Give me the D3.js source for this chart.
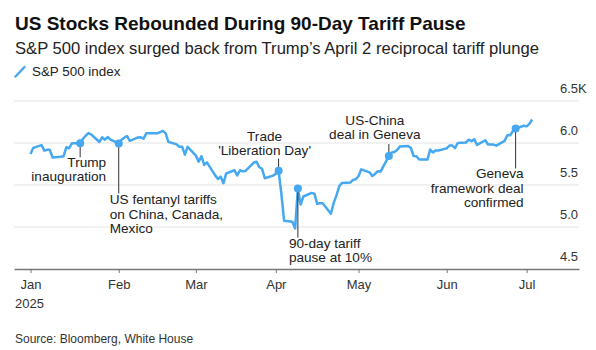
<!DOCTYPE html>
<html>
<head>
<meta charset="utf-8">
<script src="https://cdn.jsdelivr.net/npm/d3@7"></script>
<style>
  body { margin: 0; background: #fff; }
  svg { display: block; font-family: "Liberation Sans", Arial, Helvetica, sans-serif; }
</style>
</head>
<body>
<div id="chart"></div>
<script>
// S&P 500 daily closes (holidays carry the previous close)
const dates = [
  "2025-01-02","2025-01-03","2025-01-06","2025-01-07","2025-01-08","2025-01-09","2025-01-10",
  "2025-01-13","2025-01-14","2025-01-15","2025-01-16","2025-01-17","2025-01-20","2025-01-21",
  "2025-01-22","2025-01-23","2025-01-24","2025-01-27","2025-01-28","2025-01-29","2025-01-30","2025-01-31",
  "2025-02-03","2025-02-04","2025-02-05","2025-02-06","2025-02-07","2025-02-10","2025-02-11",
  "2025-02-12","2025-02-13","2025-02-14","2025-02-17","2025-02-18","2025-02-19","2025-02-20","2025-02-21",
  "2025-02-24","2025-02-25","2025-02-26","2025-02-27","2025-02-28",
  "2025-03-03","2025-03-04","2025-03-05","2025-03-06","2025-03-07","2025-03-10","2025-03-11",
  "2025-03-12","2025-03-13","2025-03-14","2025-03-17","2025-03-18","2025-03-19","2025-03-20",
  "2025-03-21","2025-03-24","2025-03-25","2025-03-26","2025-03-27","2025-03-28","2025-03-31",
  "2025-04-01","2025-04-02","2025-04-03","2025-04-04","2025-04-07","2025-04-08","2025-04-09",
  "2025-04-10","2025-04-11","2025-04-14","2025-04-15","2025-04-16","2025-04-17","2025-04-18",
  "2025-04-21","2025-04-22","2025-04-23","2025-04-24","2025-04-25","2025-04-28","2025-04-29","2025-04-30",
  "2025-05-01","2025-05-02","2025-05-05","2025-05-06","2025-05-07","2025-05-08","2025-05-09",
  "2025-05-12","2025-05-13","2025-05-14","2025-05-15","2025-05-16","2025-05-19","2025-05-20",
  "2025-05-21","2025-05-22","2025-05-23","2025-05-26","2025-05-27","2025-05-28","2025-05-29","2025-05-30",
  "2025-06-02","2025-06-03","2025-06-04","2025-06-05","2025-06-06","2025-06-09","2025-06-10",
  "2025-06-11","2025-06-12","2025-06-13","2025-06-16","2025-06-17","2025-06-18","2025-06-19",
  "2025-06-20","2025-06-23","2025-06-24","2025-06-25","2025-06-26","2025-06-27","2025-06-30",
  "2025-07-01","2025-07-02","2025-07-03"
];
const closes = [
  5868.55,5942.47,5975.38,5909.03,5918.25,5918.25,5827.04,
  5836.22,5842.91,5949.91,5937.34,5996.66,5996.66,6049.24,
  6086.37,6118.71,6101.24,6012.28,6067.70,6039.31,6071.17,6040.53,
  5994.57,6037.88,6061.48,6083.57,6025.99,6066.44,6068.50,
  6051.97,6115.07,6114.63,6114.63,6129.58,6144.15,6117.52,6013.13,
  5983.25,5955.25,5956.06,5861.57,5954.50,
  5849.72,5778.15,5842.63,5738.52,5770.20,5614.56,5572.07,
  5599.30,5521.52,5638.94,5675.12,5614.66,5675.29,5662.89,
  5667.56,5767.57,5776.65,5712.20,5693.31,5580.94,5611.85,
  5633.07,5670.97,5396.52,5074.08,5062.25,4982.77,5456.90,
  5268.05,5363.36,5405.97,5396.63,5275.70,5282.70,5282.70,
  5158.20,5287.76,5375.86,5484.77,5525.21,5528.75,5560.83,5569.06,
  5604.14,5686.67,5650.38,5606.91,5631.28,5663.94,5659.91,
  5844.19,5886.55,5892.58,5916.93,5958.38,5963.60,5940.46,
  5844.61,5842.01,5802.82,5802.82,5921.54,5888.55,5912.17,5911.69,
  5935.94,5970.37,5970.81,5939.30,6000.36,6005.88,6038.81,
  6022.24,6045.26,5976.97,6033.11,5982.72,5980.87,5980.87,
  5967.84,6025.17,6092.18,6092.16,6141.02,6173.07,6204.95,
  6198.01,6227.42,6279.35
];

// axis ticks (first trading day of each month)
const monthTicks = ["2025-01-02","2025-02-03","2025-03-03","2025-04-01","2025-05-01","2025-06-02","2025-07-01"];
const yTicks = [4500, 5000, 5500, 6000, 6500];

// annotated events
const annoDates = ["2025-01-20","2025-02-03","2025-04-02","2025-04-09","2025-05-12","2025-06-27"];
const annoLabels = [
  ["Trump", "inauguration"],
  ["US fentanyl tariffs", "on China, Canada,", "Mexico"],
  ["Trade", "'Liberation Day'"],
  ["90-day tariff", "pause at 10%"],
  ["US-China", "deal in Geneva"],
  ["Geneva", "framework deal", "confirmed"]
];
// label placement relative to the dot
const annoLayout = [
  { anchor: "end",    dx: 26,  dy: 24,  lead: 14 },
  { anchor: "start",  dx: -9,  dy: 61,  lead: 50 },
  { anchor: "middle", dx: -14, dy: -30, lead: -12 },
  { anchor: "start",  dx: -9,  dy: 59,  lead: 49 },
  { anchor: "middle", dx: -14, dy: -31, lead: -12 },
  { anchor: "end",    dx: 8,   dy: 50,  lead: 40 }
];

const blue = "#45a8f0";
const parse = d3.timeParse("%Y-%m-%d");
const data = dates.map((d, i) => ({ date: parse(d), value: closes[i] }));

const width = 596, height = 350;
const svg = d3.select("#chart").append("svg")
  .attr("width", width)
  .attr("height", height);

const x = d3.scaleTime()
  .domain([new Date(2024, 11, 27), new Date(2025, 6, 20)])
  .range([14, 579]);

const y = d3.scaleLinear()
  .domain([4500, 6500])
  .range([269, 101]);

// titles
svg.append("text")
  .attr("x", 15).attr("y", 29.5)
  .attr("font-size", 19).attr("font-weight", "bold").attr("fill", "#111")
  .text("US Stocks Rebounded During 90-Day Tariff Pause");

svg.append("text")
  .attr("x", 15).attr("y", 54)
  .attr("font-size", 16.6).attr("fill", "#222")
  .text("S&P 500 index surged back from Trump\u2019s April 2 reciprocal tariff plunge");

// legend
svg.append("line")
  .attr("x1", 15.5).attr("y1", 76.5).attr("x2", 24.5).attr("y2", 67)
  .attr("stroke", blue).attr("stroke-width", 2.5).attr("stroke-linecap", "round");
svg.append("text")
  .attr("x", 32).attr("y", 76)
  .attr("font-size", 13.4).attr("fill", "#222")
  .text("S&P 500 index");

// gridlines and y labels
const grid = svg.append("g");
grid.selectAll("line")
  .data(yTicks.filter(d => d > 4500))
  .enter().append("line")
  .attr("x1", 14).attr("x2", 579)
  .attr("y1", d => y(d)).attr("y2", d => y(d))
  .attr("stroke", "#e3e3e3").attr("stroke-width", 1);

grid.selectAll("text")
  .data(yTicks)
  .enter().append("text")
  .attr("x", 578)
  .attr("y", d => y(d) - 8)
  .attr("text-anchor", "end")
  .attr("font-size", 13).attr("fill", "#333")
  .text(d => d3.format(".1f")(d / 1000));

svg.append("text")
  .attr("x", 578).attr("y", y(6500) - 8)
  .attr("font-size", 13).attr("fill", "#333")
  .text("K");

// x axis
const xAxis = svg.append("g")
  .attr("transform", `translate(0,${y(4500)})`)
  .call(d3.axisBottom(x)
    .tickValues(monthTicks.map(parse))
    .tickSize(4)
    .tickSizeOuter(0)
    .tickPadding(7)
    .tickFormat(d3.timeFormat("%b")));

xAxis.select(".domain").attr("stroke", "#777").attr("stroke-width", 1.5);
xAxis.selectAll(".tick line").attr("stroke", "#777");
xAxis.selectAll(".tick text")
  .attr("font-size", 13).attr("fill", "#333")
  .attr("font-family", "Liberation Sans, Arial, sans-serif");

svg.append("text")
  .attr("x", 15).attr("y", 308)
  .attr("font-size", 13).attr("fill", "#333")
  .text("2025");

// line
const line = d3.line()
  .x(d => x(d.date))
  .y(d => y(d.value));

svg.append("path")
  .datum(data)
  .attr("fill", "none")
  .attr("stroke", blue)
  .attr("stroke-width", 2.5)
  .attr("stroke-linejoin", "round")
  .attr("d", line);

// annotations
annoDates.forEach((ds, i) => {
  const d = parse(ds);
  const pt = data.find(p => +p.date === +d);
  const cx = x(d), cy = y(pt.value);
  const lay = annoLayout[i];

  svg.append("line")
    .attr("x1", cx).attr("x2", cx)
    .attr("y1", cy).attr("y2", cy + lay.lead)
    .attr("stroke", "#333").attr("stroke-width", 1);

  svg.append("circle")
    .attr("cx", cx).attr("cy", cy).attr("r", 4)
    .attr("fill", blue);

  const t = svg.append("text")
    .attr("text-anchor", lay.anchor)
    .attr("font-size", 13.6).attr("fill", "#222");
  annoLabels[i].forEach((s, j) => {
    t.append("tspan")
      .attr("x", cx + lay.dx)
      .attr("y", cy + lay.dy + j * 14.2)
      .text(s);
  });
});

// source
svg.append("text")
  .attr("x", 15).attr("y", 342.5)
  .attr("font-size", 12).attr("fill", "#333")
  .text("Source: Bloomberg, White House");
</script>
</body>
</html>
